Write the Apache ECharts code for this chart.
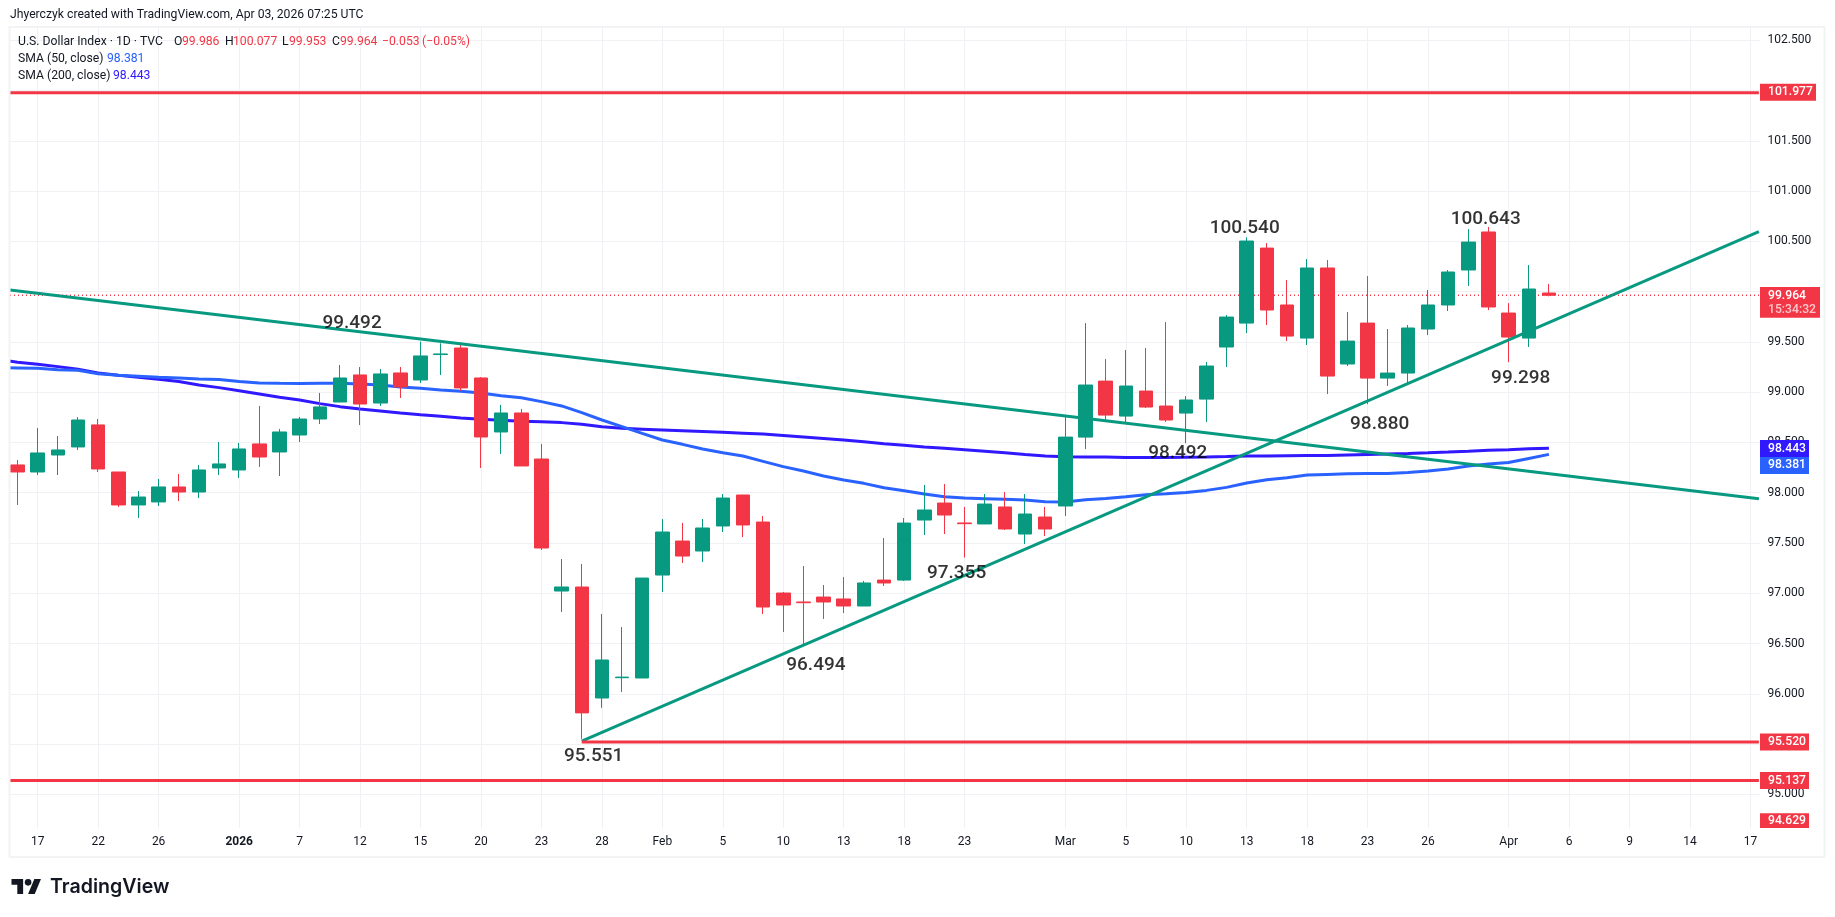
<!DOCTYPE html>
<html><head><meta charset="utf-8">
<style>html,body{margin:0;padding:0;background:#fff}#c{width:1835px;height:917px}</style>
<script src="https://cdn.jsdelivr.net/npm/echarts@6/dist/echarts.min.js"></script>
</head><body><div id="c"></div>
<script>
const categories=['12-16','12-17','12-18','12-19','12-22','12-23','12-24','12-26','12-29','12-30','12-31','01-02','01-05','01-06','01-07','01-08','01-09','01-12','01-13','01-14','01-15','01-16','01-19','01-20','01-21','01-22','01-23','01-26','01-27','01-28','01-29','01-30','02-02','02-03','02-04','02-05','02-06','02-09','02-10','02-11','02-12','02-13','02-16','02-17','02-18','02-19','02-20','02-23','02-24','02-25','02-26','02-27','03-02','03-03','03-04','03-05','03-06','03-09','03-10','03-11','03-12','03-13','03-16','03-17','03-18','03-19','03-20','03-23','03-24','03-25','03-26','03-27','03-30','03-31','04-01','04-02','04-03','04-06','04-07','04-08','04-09','04-10','04-13','04-14','04-15','04-16','04-17'];
const tickLabels={'12-17':'17','12-22':'22','12-26':'26','01-02':'2026','01-07':'7','01-12':'12','01-15':'15','01-20':'20','01-23':'23','01-28':'28','02-02':'Feb','02-05':'5','02-10':'10','02-13':'13','02-18':'18','02-23':'23','03-02':'Mar','03-05':'5','03-10':'10','03-13':'13','03-18':'18','03-23':'23','03-26':'26','04-01':'Apr','04-06':'6','04-09':'9','04-14':'14','04-17':'17'};
const opens=[98.276,98.206,98.375,98.455,98.674,98.206,97.878,97.908,98.057,98.007,98.246,98.226,98.485,98.405,98.574,98.733,98.902,99.171,98.892,99.191,99.121,99.374,99.439,99.141,98.604,98.793,98.335,97.022,97.062,95.958,96.160,96.157,97.181,97.519,97.420,97.669,97.977,97.708,97.002,96.913,96.962,96.943,96.873,97.131,97.131,97.728,97.897,97.699,97.689,97.858,97.589,97.758,97.868,98.553,99.110,98.762,99.011,98.862,98.792,98.931,99.449,99.687,100.433,99.867,99.538,100.235,99.280,99.687,99.140,99.190,99.628,99.867,100.215,100.593,99.787,99.538,99.986];
const closes=[98.206,98.395,98.425,98.723,98.236,97.878,97.957,98.057,98.007,98.226,98.286,98.435,98.355,98.604,98.733,98.853,99.141,98.882,99.181,99.052,99.360,99.380,99.042,98.554,98.793,98.266,97.450,97.062,95.810,96.336,96.166,97.151,97.609,97.370,97.649,97.947,97.679,96.863,96.883,96.906,96.913,96.873,97.102,97.102,97.698,97.828,97.778,97.692,97.887,97.639,97.788,97.639,98.553,99.071,98.772,99.061,98.852,98.723,98.922,99.260,99.747,100.503,99.817,99.558,100.235,99.160,99.508,99.140,99.190,99.638,99.867,100.195,100.493,99.847,99.548,100.026,99.964];
const lows=[97.878,98.176,98.176,98.425,98.206,97.858,97.748,97.868,97.917,97.947,98.176,98.146,98.256,98.166,98.504,98.683,98.902,98.673,98.863,98.942,99.091,99.171,99.012,98.246,98.385,98.266,97.430,96.813,95.551,95.860,96.017,96.157,97.012,97.301,97.310,97.609,97.559,96.793,96.614,96.494,96.744,96.803,96.873,97.072,97.122,97.579,97.589,97.355,97.689,97.629,97.490,97.569,97.768,98.434,98.703,98.703,98.842,98.703,98.492,98.703,99.250,99.588,99.668,99.508,99.469,98.981,99.260,98.880,99.061,99.091,99.568,99.807,100.056,99.817,99.298,99.449,99.953];
const highs=[98.325,98.644,98.564,98.753,98.733,98.206,98.017,98.136,98.186,98.276,98.504,98.495,98.863,98.634,98.753,98.992,99.270,99.250,99.231,99.250,99.503,99.486,99.492,99.150,98.873,98.833,98.485,97.340,97.291,96.793,96.664,97.151,97.738,97.699,97.738,97.987,97.977,97.768,97.012,97.271,97.082,97.161,97.122,97.549,97.748,98.077,98.086,97.858,97.987,98.007,97.987,97.858,98.756,99.687,99.329,99.419,99.439,99.697,98.961,99.300,99.767,100.540,100.483,100.115,100.324,100.314,99.797,100.155,99.628,99.668,100.016,100.215,100.622,100.643,99.886,100.264,100.077];
// SMA values: first entry sits one bar before the first candle, then one per candle
const sma50=[99.244,99.241,99.237,99.224,99.217,99.184,99.168,99.158,99.148,99.141,99.131,99.125,99.106,99.092,99.088,99.085,99.088,99.088,99.081,99.071,99.052,99.038,99.022,99.008,98.992,98.965,98.945,98.906,98.863,98.796,98.723,98.657,98.590,98.524,98.481,98.435,98.398,98.365,98.312,98.259,98.216,98.166,98.126,98.093,98.050,98.020,97.987,97.960,97.947,97.941,97.934,97.927,97.911,97.907,97.930,97.943,97.960,97.980,97.990,98.003,98.023,98.053,98.096,98.129,98.149,98.175,98.182,98.189,98.192,98.192,98.202,98.215,98.235,98.265,98.285,98.301,98.341,98.381];
const sma200=[99.327,99.297,99.277,99.254,99.227,99.191,99.168,99.148,99.128,99.105,99.071,99.045,99.015,98.982,98.949,98.922,98.886,98.856,98.833,98.813,98.793,98.776,98.760,98.743,98.730,98.720,98.710,98.705,98.697,98.680,98.655,98.640,98.632,98.624,98.616,98.608,98.600,98.592,98.584,98.569,98.554,98.539,98.524,98.506,98.488,98.471,98.454,98.441,98.428,98.413,98.398,98.381,98.365,98.358,98.355,98.354,98.351,98.351,98.351,98.353,98.355,98.359,98.364,98.366,98.368,98.370,98.371,98.376,98.381,98.386,98.391,98.397,98.404,98.412,98.421,98.428,98.436,98.443];
const yTicks=[95,95.5,96,96.5,97,97.5,98,98.5,99,99.5,100,100.5,101,101.5,102,102.5];
const yLabels=[95,96,96.5,97,97.5,98,98.5,99,99.5,100.5,101,101.5,102.5];
// drawn lines: [bar position, price]
const xStart=-0.377, xEnd=86.42;
const trendDown=[[xStart,100.016],[xEnd,97.94]];
const trendUp=[[28,95.53],[xEnd,100.596]];
const levelTop=[[xStart,101.977],[xEnd,101.977]];
const levelMid=[[28,95.52],[xEnd,95.52]];
const levelLow=[[xStart,95.137],[xEnd,95.137]];
const lastPrice=[[xStart,99.964],[xEnd,99.964]];
const notes=[[16.6,99.685,'99.492'],[28.59,95.38,'95.551'],[39.62,96.285,'96.494'],[46.6,97.195,'97.355'],[57.58,98.39,'98.492'],[60.9,100.635,'100.540'],[72.86,100.715,'100.643'],[67.6,98.685,'98.880'],[74.6,99.135,'99.298']];
const priceTags=[['101.977',101.977,'#F23645',-0.5,56],['98.443',98.443,'#3018FF',0.4,49],['98.381',98.381,'#2962FF',11,49],['95.520',95.52,'#F23645',0,49],['95.137',95.137,'#F23645',0,49]];

const RED='#F23645',GREEN='#089981',GRID='#f0f1f4',TXT='#131722',FF='Roboto, sans-serif';
const tickSet=i=>tickLabels[categories[i]]!==undefined;
const chart=echarts.init(document.getElementById('c'),null,{renderer:'canvas'});
const candles=opens.map((o,i)=>[o,closes[i],lows[i],highs[i]]);
const lineS=(name,data,color,width,z,extra)=>Object.assign({name,type:'line',xAxisIndex:1,yAxisIndex:0,data,symbol:'none',z,silent:true,clip:true,lineStyle:{color,width}},extra||{});
chart.setOption({
 animation:false,
 backgroundColor:'#fff',
 grid:{left:7.5,top:28,width:1753,height:800,containLabel:false},
 xAxis:[
  {type:'category',data:categories,boundaryGap:true,position:'bottom',
   axisLine:{show:false},axisTick:{show:false,alignWithLabel:true,interval:(i)=>tickSet(i)},
   axisLabel:{interval:(i)=>tickSet(i),margin:8,hideOverlap:false,color:TXT,fontFamily:FF,fontSize:12,
    formatter:v=>{const t=tickLabels[v]||'';return t==='2026'?'{b|2026}':t;},rich:{b:{fontWeight:'bold',fontFamily:FF,fontSize:12,color:TXT}}},
   splitLine:{show:true,alignWithLabel:true,interval:(i)=>tickSet(i),lineStyle:{color:GRID,width:1}}},
  {type:'value',min:-0.5,max:86.5,show:false,splitLine:{show:false}}
 ],
 yAxis:{type:'value',position:'right',min:94.665,max:102.622,scale:true,
  axisLine:{show:false},axisTick:{show:false,customValues:yTicks},
  axisLabel:{customValues:yLabels,margin:7,color:TXT,fontFamily:FF,fontSize:12,formatter:v=>v.toFixed(3),showMinLabel:true,showMaxLabel:true},
  splitLine:{show:true,lineStyle:{color:GRID,width:1}}},
 series:[
  lineS('SMA 200',sma200.map((v,i)=>[i-1,v]),'#3018FF',3,1),
  lineS('SMA 50',sma50.map((v,i)=>[i-1,v]),'#2962FF',3,1),
  lineS('Last',lastPrice,RED,1.5,1,{lineStyle:{color:RED,width:1.5,type:[1,3]}}),
  {name:'U.S. Dollar Index',type:'candlestick',xAxisIndex:0,yAxisIndex:0,data:candles,barWidth:14,z:2,silent:true,
   itemStyle:{color:GREEN,color0:RED,borderColor:GREEN,borderColor0:RED,borderWidth:1}},
  lineS('Trend down',trendDown,GREEN,3,3),
  lineS('Trend up',trendUp,GREEN,3,3),
  lineS('Level 101.977',levelTop,RED,3,3),
  lineS('Level 95.520',levelMid,RED,3,3),
  lineS('Level 95.137',levelLow,RED,3,3),
  {name:'Notes',type:'scatter',xAxisIndex:1,yAxisIndex:0,data:notes,symbolSize:1,z:4,silent:true,clip:false,
   itemStyle:{color:'transparent'},
   label:{show:true,position:'inside',color:'#000',fontFamily:FF,fontSize:19,fontWeight:500,formatter:p=>p.value[2]}}
 ]
});
function txt(x,y,text,fill,size,weight,font){return {type:'text',z:50,silent:true,style:{x,y,text,fill,font:(weight||'normal')+' '+(size||12)+'px '+(font||FF),textVerticalAlign:'middle'}};}
function rect(x,y,w,h,fill,z){return {type:'rect',z:z||40,silent:true,shape:{x,y,width:w,height:h},style:{fill}};}
const LS=0.83,LX=11.5,LY=875.7;
const logoPts=a=>a.map(p=>[LX+p[0]*LS,LY+p[1]*LS]);
const g=[
 rect(0,0,9,917,'#fff',30),
 {type:'rect',z:31,silent:true,shape:{x:9.5,y:27,width:1815,height:830},style:{fill:'none',stroke:'#f2f3f4',lineWidth:2}},
 txt(10,15,'Jhyerczyk created with TradingView.com, Apr 03, 2026 07:25 UTC',TXT,12.2),
 txt(18,41.7,'U.S. Dollar Index · 1D · TVC',TXT,12.2),
 txt(174,41.7,'O',TXT,12.2),txt(182,41.7,'99.986',RED,12.2),
 txt(225,41.7,'H',TXT,12.2),txt(233,41.7,'100.077',RED,12.2),
 txt(282,41.7,'L',TXT,12.2),txt(289,41.7,'99.953',RED,12.2),
 txt(332,41.7,'C',TXT,12.2),txt(340,41.7,'99.964',RED,12.2),
 txt(382,41.7,'−0.053',RED,12.2),txt(422,41.7,'(−0.05%)',RED,12.2),
 txt(18,58.7,'SMA (50, close)',TXT,12.2),txt(107,58.7,'98.381','#2962FF',12.2),
 txt(18,75.7,'SMA (200, close)',TXT,12.2),txt(113,75.7,'98.443','#3018FF',12.2),
 // logo
 {type:'polygon',z:50,silent:true,shape:{points:logoPts([[14,22],[7,22],[7,11],[0,11],[0,4],[14,4]])},style:{fill:'#131722'}},
 {type:'polygon',z:50,silent:true,shape:{points:logoPts([[28,22],[20,22],[27.5,4],[35.5,4]])},style:{fill:'#131722'}},
 {type:'circle',z:50,silent:true,shape:{cx:LX+20*LS,cy:LY+8*LS,r:4*LS},style:{fill:'#131722'}},
 txt(50,886.7,'TradingView','#131722',19.6,'600','Inter, sans-serif')
];
priceTags.forEach(t=>{
 const y=chart.convertToPixel({yAxisIndex:0},t[1])+t[3];
 g.push(rect(1760,y-8.5,t[4],17,t[2],45));
 g.push(txt(1768,y,t[0],'#fff',12.2,'500'));
});
// last price tag with countdown, and the off-scale low tag clipped at the plot bottom
const yLast=chart.convertToPixel({yAxisIndex:0},99.964);
g.push(rect(1760,yLast-8.2,60,30.7,RED,45));
g.push(txt(1768,yLast+0.7,'99.964','#fff',12.2,'500'));
g.push(txt(1768,yLast+14.7,'15:34:32','rgba(255,255,255,0.72)',12.2,'500'));
g.push(rect(1760,813.3,49,14.7,RED,45));
g.push(txt(1768,820.8,'94.629','#fff',12.2,'500'));
chart.setOption({graphic:g});
</script></body></html>
